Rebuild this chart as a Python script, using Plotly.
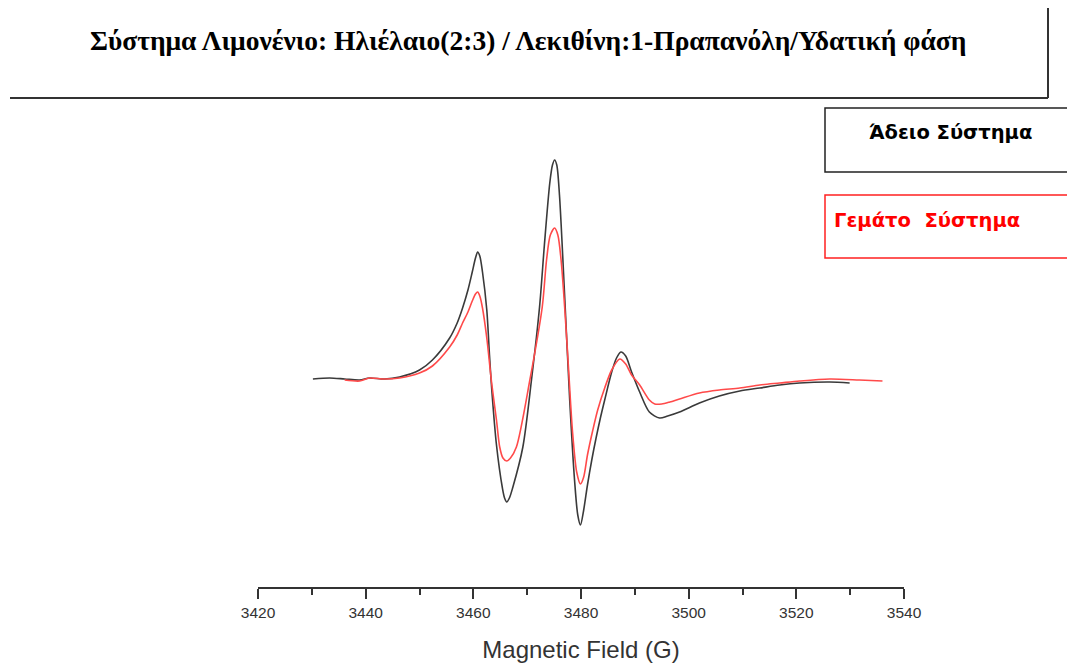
import plotly.graph_objects as go

# Black curve: "Άδειο Σύστημα"
field_black = [3430.2, 3433.3, 3436.1, 3438.9, 3440.7, 3443.5, 3446.3, 3450.0, 3452.4, 3455.6,
               3457.0, 3458.0, 3459.0, 3459.8, 3460.4, 3460.8, 3461.2, 3461.7, 3462.5, 3463.0,
               3463.4, 3464.3, 3465.4, 3465.8, 3466.2, 3466.7, 3467.3, 3469.2, 3470.8, 3472.3,
               3473.2, 3474.2, 3474.7, 3475.1, 3475.5, 3476.0, 3477.0, 3477.9, 3478.8, 3479.4,
               3479.9, 3480.5, 3481.2, 3482.0, 3482.8, 3483.6, 3484.4, 3485.7, 3486.6, 3487.4,
               3488.3, 3489.4, 3490.9, 3492.7, 3494.6, 3496.1, 3498.3, 3502.0, 3505.7, 3509.5,
               3513.2, 3516.9, 3520.6, 3526.2, 3529.9]
signal_black = [1, 2, 1, 0, 2, 1, 3, 10, 20, 42,
                57, 72, 90, 108, 122, 128, 124, 108, 70, 25,
                -8, -65, -108, -118, -122, -118, -108, -67, 0, 73,
                135, 197, 215, 220, 215, 185, 80, -20, -100, -135,
                -145, -130, -105, -80, -58, -38, -20, 8, 22, 28,
                24, 8, -12, -32, -38, -36, -32, -23, -16, -11,
                -8, -5, -3, -2, -3]

# Red curve: "Γεμάτο Σύστημα"
field_red = [3436.1, 3438.9, 3440.7, 3443.5, 3446.3, 3450.0, 3452.4, 3455.6, 3457.0, 3458.0,
             3459.0, 3459.8, 3460.4, 3460.8, 3461.2, 3461.7, 3462.5, 3463.4, 3464.3, 3464.9,
             3465.5, 3466.2, 3466.9, 3468.0, 3470.5, 3472.8, 3473.6, 3474.3, 3475.1, 3475.7,
             3476.3, 3477.0, 3477.7, 3478.4, 3479.2, 3479.9, 3480.5, 3481.2, 3482.2, 3483.1,
             3484.4, 3485.7, 3487.2, 3488.3, 3489.4, 3490.9, 3492.7, 3493.7, 3495.0, 3496.5,
             3498.3, 3502.0, 3505.7, 3509.5, 3513.2, 3516.9, 3520.6, 3526.2, 3531.7, 3536.0]
signal_red = [0, -1, 2, 1, 2, 7, 14, 33, 45, 57,
              68, 79, 86, 88, 84, 72, 42, -3, -40, -67,
              -78, -81, -78, -67, 0, 73, 120, 145, 152, 145,
              120, 70, 10, -50, -92, -104, -97, -75, -50, -30,
              -8, 10, 21, 16, 5, -5, -20, -24, -24, -22,
              -19, -13, -10, -8, -5, -3, -1, 1, 0, -1]

tick_vals = [3420, 3440, 3460, 3480, 3500, 3520, 3540]
title_text = "Σύστημα Λιμονένιο: Ηλιέλαιο(2:3) / Λεκιθίνη:1-Πραπανόλη/Υδατική φάση"
legend_empty = "Άδειο Σύστημα"
legend_full = "Γεμάτο  Σύστημα"
axis_title = "Magnetic Field (G)"

OFF = 8  # page body margin
W, H = 1075 - OFF, 665 - OFF
L, R, T, B = 258 - OFF, 904 - OFF, 110 - OFF, 587 - OFF


def px(x):
    return (x - OFF - L) / (R - L)


def py(y):
    return (B - (y - OFF)) / (B - T)


fig = go.Figure()
fig.add_trace(go.Scatter(x=field_black, y=signal_black, mode="lines",
                         line=dict(color="#3a3a3a", width=1.6, shape="spline", smoothing=0.8),
                         showlegend=False, hoverinfo="skip"))
fig.add_trace(go.Scatter(x=field_red, y=signal_red, mode="lines",
                         line=dict(color="#ff4a4a", width=1.6, shape="spline", smoothing=0.8),
                         showlegend=False, hoverinfo="skip"))

shapes = [
    dict(type="line", xref="paper", yref="paper", x0=px(10), x1=px(1048), y0=py(98), y1=py(98),
         line=dict(color="#333333", width=2)),
    dict(type="line", xref="paper", yref="paper", x0=px(1048), x1=px(1048), y0=py(8), y1=py(98),
         line=dict(color="#333333", width=2)),
    dict(type="rect", xref="paper", yref="paper", x0=px(825), x1=px(1085), y0=py(108), y1=py(172),
         line=dict(color="#222222", width=1.5)),
    dict(type="rect", xref="paper", yref="paper", x0=px(825), x1=px(1085), y0=py(195), y1=py(258),
         line=dict(color="#ff2020", width=1.5)),
]

annotations = [
    dict(text="<b>" + title_text + "</b>", xref="paper", yref="paper", x=px(528), y=py(40),
         showarrow=False, xanchor="center", yanchor="middle",
         font=dict(family="Liberation Serif", size=27.5, color="#000000")),
    dict(text="<b>" + legend_empty + "</b>", xref="paper", yref="paper", x=px(867), y=py(133),
         showarrow=False, xanchor="left", yanchor="middle",
         font=dict(family="DejaVu Sans", size=19.5, color="#000000")),
    dict(text="<b>" + legend_full + "</b>", xref="paper", yref="paper", x=px(832), y=py(220),
         showarrow=False, xanchor="left", yanchor="middle",
         font=dict(family="DejaVu Sans", size=19.5, color="#ff0000")),
]

fig.update_layout(
    width=W, height=H,
    margin=dict(l=L, r=W - R, t=T, b=H - B),
    paper_bgcolor="white", plot_bgcolor="white",
    shapes=shapes, annotations=annotations,
    xaxis=dict(range=[3420, 3540], tickvals=tick_vals, showgrid=False, zeroline=False,
               automargin=False,
               showline=True, linecolor="#333333", linewidth=2,
               ticks="outside", ticklen=10, tickwidth=2, tickcolor="#333333",
               minor=dict(dtick=10, ticks="outside", ticklen=6, tickwidth=2, tickcolor="#333333"),
               tickfont=dict(family="Liberation Sans", size=15.5, color="#333333"),
               title=dict(text=axis_title, font=dict(family="Liberation Sans", size=24, color="#333333"),
                          standoff=22)),
    yaxis=dict(range=[-207, 270], visible=False, automargin=False),
)

fig.write_html("out.html")
